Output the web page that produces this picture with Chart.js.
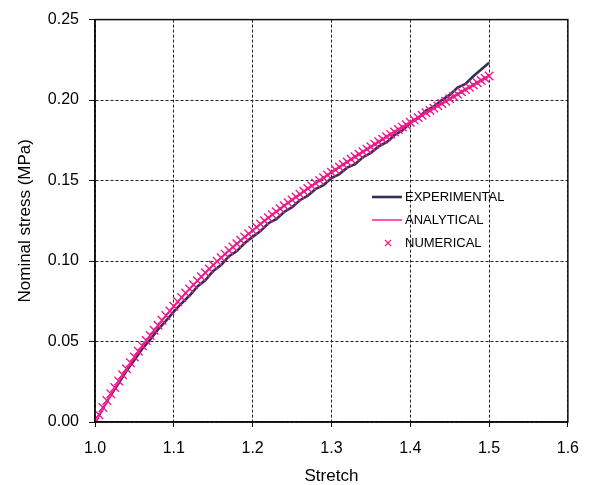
<!DOCTYPE html>
<html>
<head>
<meta charset="utf-8">
<script src="https://cdn.jsdelivr.net/npm/chart.js@4.4.1/dist/chart.umd.min.js"></script>
<style>
body { margin:0; background:#fff; }
#wrap { width:591px; height:485px; }
</style>
</head>
<body>
<div id="wrap"><canvas id="chart-stretch" width="591" height="485"></canvas></div>
<script>
// stretch values, step 0.01 (experimental + analytical)
var stretch_line = [1.00,1.01,1.02,1.03,1.04,1.05,1.06,1.07,1.08,1.09,1.10,1.11,1.12,1.13,1.14,1.15,1.16,1.17,1.18,1.19,1.20,
    1.21,1.22,1.23,1.24,1.25,1.26,1.27,1.28,1.29,1.30,1.31,1.32,1.33,1.34,1.35,1.36,1.37,1.38,1.39,1.40,
    1.41,1.42,1.43,1.44,1.45,1.46,1.47,1.48,1.49,1.50];

var stress_experimental = [0,0.0085,0.0168,0.0240,0.0318,0.0385,0.0455,0.0512,0.0575,0.0628,0.0686,
    0.0738,0.0786,0.0842,0.0880,0.0938,0.0975,0.1030,0.1062,0.1112,0.1150,
    0.1186,0.1235,0.1260,0.1305,0.1335,0.1378,0.1406,0.1448,0.1472,0.1515,
    0.1540,0.1580,0.1602,0.1645,0.1672,0.1712,0.1738,0.1782,0.1812,0.1858,
    0.1888,0.1935,0.1960,0.2000,0.2032,0.2078,0.2100,0.2148,0.2190,0.2232];

var stress_analytical = [0,0.0090,0.0175,0.0255,0.0331,0.0404,0.0473,0.0538,0.0601,0.0661,0.0719,
    0.0774,0.0827,0.0878,0.0927,0.0975,0.1020,0.1065,0.1108,0.1150,0.1190,
    0.1230,0.1269,0.1307,0.1344,0.1380,0.1415,0.1450,0.1484,0.1518,0.1551,
    0.1584,0.1616,0.1648,0.1679,0.1710,0.1741,0.1772,0.1802,0.1832,0.1862,
    0.1891,0.1921,0.1950,0.1979,0.2008,0.2036,0.2065,0.2093,0.2122,0.2150];

// stretch values, step 0.005 (numerical)
var stretch_num = [1.000,1.005,1.010,1.015,1.020,1.025,1.030,1.035,1.040,1.045,1.050,1.055,1.060,1.065,1.070,1.075,1.080,1.085,1.090,1.095,
    1.100,1.105,1.110,1.115,1.120,1.125,1.130,1.135,1.140,1.145,1.150,1.155,1.160,1.165,1.170,1.175,1.180,1.185,1.190,1.195,
    1.200,1.205,1.210,1.215,1.220,1.225,1.230,1.235,1.240,1.245,1.250,1.255,1.260,1.265,1.270,1.275,1.280,1.285,1.290,1.295,
    1.300,1.305,1.310,1.315,1.320,1.325,1.330,1.335,1.340,1.345,1.350,1.355,1.360,1.365,1.370,1.375,1.380,1.385,1.390,1.395,
    1.400,1.405,1.410,1.415,1.420,1.425,1.430,1.435,1.440,1.445,1.450,1.455,1.460,1.465,1.470,1.475,1.480,1.485,1.490,1.495,1.500];

var stress_numerical = [0,0.0045,0.0090,0.0133,0.0175,0.0215,0.0255,0.0294,0.0331,0.0368,0.0404,0.0439,0.0473,0.0506,0.0538,0.0570,0.0601,0.0632,0.0661,0.0690,
    0.0719,0.0747,0.0774,0.0801,0.0827,0.0853,0.0878,0.0903,0.0927,0.0951,0.0975,0.0998,0.1020,0.1043,0.1065,0.1087,0.1108,0.1129,0.1150,0.1170,
    0.1190,0.1210,0.1230,0.1250,0.1269,0.1288,0.1307,0.1325,0.1344,0.1362,0.1380,0.1398,0.1415,0.1433,0.1450,0.1467,0.1484,0.1501,0.1518,0.1535,
    0.1551,0.1567,0.1584,0.1600,0.1616,0.1632,0.1648,0.1664,0.1679,0.1695,0.1710,0.1726,0.1741,0.1757,0.1772,0.1787,0.1802,0.1817,0.1832,0.1847,
    0.1862,0.1877,0.1891,0.1906,0.1921,0.1935,0.1950,0.1964,0.1979,0.1993,0.2008,0.2022,0.2036,0.2051,0.2065,0.2079,0.2093,0.2108,0.2122,0.2136,0.2150];

var legend_labels = ['EXPERIMENTAL', 'ANALYTICAL', 'NUMERICAL'];

const to_xy = (xs, ys) => xs.map((x, i) => ({ x: x, y: ys[i] }));

// solid frame round the plot area
const frame_plugin = {
    id: 'frame',
    afterDatasetsDraw: (chart) => {
        const a = chart.chartArea;
        const ctx = chart.ctx;
        ctx.save();
        ctx.strokeStyle = '#111';
        ctx.lineWidth = 1.5;
        ctx.setLineDash([]);
        ctx.strokeRect(a.left, a.top, a.right - a.left, a.bottom - a.top);
        ctx.restore();
    }
};

// legend drawn inside the plot
const legend_plugin = {
    id: 'insideLegend',
    afterDraw: (chart) => {
        const ctx = chart.ctx;
        const ds = chart.data.datasets;
        const x0 = 372, x1 = 402, tx = 405;
        const rows = [197, 220, 243];
        ctx.save();
        ctx.font = '13px "Liberation Sans", Arial, sans-serif';
        ctx.textBaseline = 'middle';
        ctx.fillStyle = '#000';
        for (let i = 0; i < 3; i++) {
            const d = ds.find(o => o.label == legend_labels[i]);
            const y = rows[i];
            ctx.strokeStyle = d.borderColor;
            if (d.showLine === false) {
                ctx.lineWidth = 1.2;
                ctx.beginPath();
                ctx.moveTo(385, y - 3); ctx.lineTo(391, y + 3);
                ctx.moveTo(391, y - 3); ctx.lineTo(385, y + 3);
                ctx.stroke();
            } else {
                ctx.lineWidth = d.borderWidth;
                ctx.beginPath();
                ctx.moveTo(x0, y); ctx.lineTo(x1, y);
                ctx.stroke();
            }
            ctx.fillText(legend_labels[i], tx, y);
        }
        ctx.restore();
    }
};

const grid_common = {
    color: '#222',
    lineWidth: 1,
    tickBorderDash: [],
    tickColor: '#111',
    drawTicks: true
};
const border_common = { display: true, color: '#111', width: 1.5, dash: [3, 2] };

new Chart(document.getElementById('chart-stretch'), {
    type: 'scatter',
    data: {
        datasets: [{
            label: 'NUMERICAL',
            data: to_xy(stretch_num, stress_numerical),
            showLine: false,
            pointStyle: 'crossRot',
            pointRadius: 6,
            pointBorderWidth: 1.4,
            borderColor: '#ee1a8a',
            backgroundColor: '#ee1a8a',
            order: 0
        }, {
            label: 'ANALYTICAL',
            data: to_xy(stretch_line, stress_analytical),
            showLine: true,
            pointRadius: 0,
            borderWidth: 2,
            borderColor: '#ff55b8',
            backgroundColor: '#ff55b8',
            order: 1
        }, {
            label: 'EXPERIMENTAL',
            data: to_xy(stretch_line, stress_experimental),
            showLine: true,
            pointRadius: 0,
            borderWidth: 2.6,
            borderColor: '#352f58',
            backgroundColor: '#352f58',
            order: 2
        }]
    },
    options: {
        responsive: false,
        animation: false,
        layout: { padding: { top: 17, right: 23, left: 0, bottom: 0 } },
        plugins: {
            legend: { display: false },
            tooltip: { enabled: false }
        },
        scales: {
            x: {
                type: 'linear',
                min: 1.0,
                max: 1.6,
                afterFit: (scale) => { scale.height = 63; },
                border: border_common,
                grid: Object.assign({}, grid_common, { tickLength: 5 }),
                ticks: {
                    stepSize: 0.1,
                    padding: 12,
                    color: '#000',
                    font: { family: '"Liberation Sans", Arial, sans-serif', size: 16 },
                    callback: (v) => Number(v).toFixed(1)
                },
                title: {
                    display: true,
                    text: 'Stretch',
                    color: '#000',
                    padding: 0,
                    font: { family: '"Liberation Sans", Arial, sans-serif', size: 17, lineHeight: 1 }
                }
            },
            y: {
                type: 'linear',
                min: 0,
                max: 0.25,
                afterFit: (scale) => { scale.width = 95; },
                border: border_common,
                grid: Object.assign({}, grid_common, { tickLength: 6 }),
                ticks: {
                    stepSize: 0.05,
                    padding: 10,
                    color: '#000',
                    font: { family: '"Liberation Sans", Arial, sans-serif', size: 16 },
                    callback: (v) => Number(v).toFixed(2)
                },
                title: {
                    display: true,
                    text: 'Nominal stress (MPa)',
                    color: '#000',
                    padding: { top: 17, bottom: 0 },
                    font: { family: '"Liberation Sans", Arial, sans-serif', size: 17, lineHeight: 1 }
                }
            }
        }
    },
    plugins: [frame_plugin, legend_plugin]
});
</script>
</body>
</html>
